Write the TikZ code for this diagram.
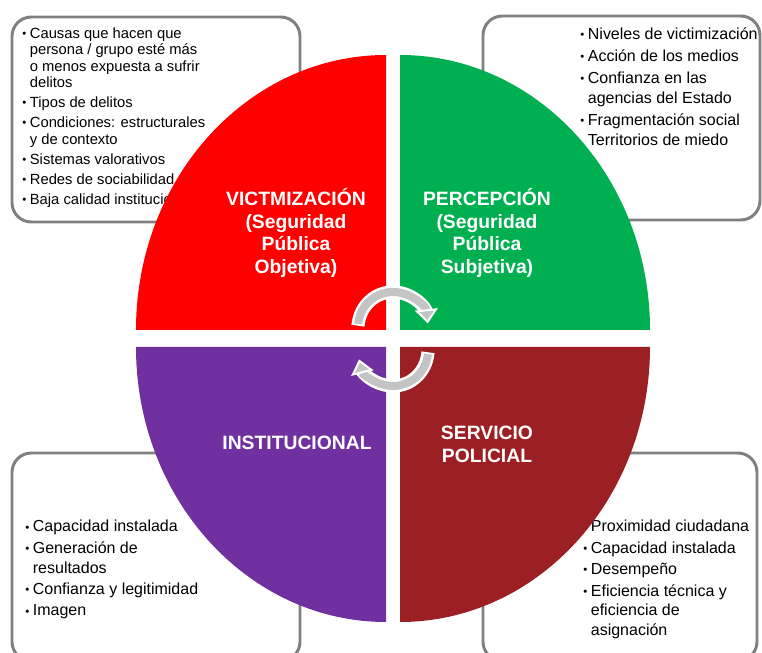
\documentclass[tikz,border=0pt]{standalone}
\usepackage{fontspec}
\setmainfont{Liberation Sans}
\usetikzlibrary{arrows.meta}
\definecolor{vicred}{HTML}{FF0000}
\definecolor{pergreen}{HTML}{00B050}
\definecolor{inspurple}{HTML}{7030A0}
\definecolor{serred}{HTML}{9C1F24}
\definecolor{boxgray}{HTML}{808080}
\definecolor{arrowgray}{HTML}{C4C4C4}
\newcommand{\bul}{\makebox[4.3pt][l]{\raisebox{.1ex}{\fontsize{6.5}{6.5}\selectfont\textbullet}}}
\newcommand{\ind}{\hspace*{4.3pt}}

\begin{document}
\begin{tikzpicture}[x=0.02cm, y=0.02cm,
    listbox/.style={draw=boxgray, line width=1.7pt, rounded corners=11pt},
    smalllist/.style={anchor=north west, inner sep=0pt, align=left,
        font=\fontsize{8.4}{9.4}\selectfont},
    biglist/.style={anchor=north west, inner sep=0pt, align=left,
        font=\fontsize{9.1}{11.2}\selectfont},
    title/.style={text=white, align=center,
        font=\bfseries\fontsize{11}{13}\selectfont},
    turnhalo/.style={white, line width=7.5pt, shorten >=6pt, shorten <=-1pt},
    turn/.style={arrowgray, line width=4.6pt,
        -{Triangle[length=8pt, width=13pt, color=white, fill=arrowgray, line width=1.1pt]}}]
    \useasboundingbox (0,0) rectangle (762,653);
    \begin{scope}
        \clip (0,0) rectangle (762,653);
        \draw [listbox] (12,636) rectangle (300,431);
        \draw [listbox] (483,637) rectangle (760,433);
        \draw [listbox] (12,200) rectangle (300,-8);
        \draw [listbox] (483,200) rectangle (757,-8);
    \end{scope}
    \node [smalllist] (causas) at (22,626) {\bul Causas que hacen que\\
        \ind persona / grupo esté más\\
        \ind o menos expuesta a sufrir\\
        \ind delitos\\[2pt]
        \bul Tipos de delitos\\[2pt]
        \bul Condiciones: estructurales\\
        \ind y de contexto\\[2pt]
        \bul Sistemas valorativos\\[2pt]
        \bul Redes de sociabilidad\\[2pt]
        \bul Baja calidad institucional};
    \node [biglist] (niveles) at (580,626) {\bul Niveles de victimización\\[1.5pt]
        \bul Acción de los medios\\[1.5pt]
        \bul Confianza en las\\
        \ind agencias del Estado\\[1.5pt]
        \bul Fragmentación social\\
        \ind Territorios de miedo};
    \node [biglist] (capacidad) at (25,133) {\bul Capacidad instalada\\[1pt]
        \bul Generación de\\
        \ind resultados\\[1pt]
        \bul Confianza y legitimidad\\[1pt]
        \bul Imagen};
    \node [biglist] (proximidad) at (583,133) {\bul Proximidad ciudadana\\[1pt]
        \bul Capacidad instalada\\[1pt]
        \bul Desempeño\\[1pt]
        \bul Eficiencia técnica y\\
        \ind eficiencia de\\
        \ind asignación};
    \fill [vicred] (386,323) -- (136,323) arc (180:90:250 and 275) -- cycle;
    \fill [pergreen] (400,323) -- (400,598) arc (90:0:250 and 275) -- cycle;
    \fill [inspurple] (386,306) -- (136,306) arc (180:270:250 and 275) -- cycle;
    \fill [serred] (400,306) -- (650,306) arc (0:-90:250 and 275) -- cycle;
    \node [title] (vic) at (296,420) {VICTMIZACIÓN\\(Seguridad\\Pública\\Objetiva)};
    \node [title] (per) at (487,420) {PERCEPCIÓN\\(Seguridad\\Pública\\Subjetiva)};
    \node [title] (ins) at (297,210) {INSTITUCIONAL};
    \node [title] (ser) at (487,209) {SERVICIO\\POLICIAL};
    \coordinate (hub) at (393,314);
    \draw [turnhalo] ([yshift=12*0.02cm]hub) ++(175:35) arc (175:6:35);
    \draw [turn] ([yshift=12*0.02cm]hub) ++(175:35) arc (175:6:35);
    \draw [turnhalo] ([yshift=-12*0.02cm]hub) ++(-5:35) arc (-5:-166:35);
    \draw [turn] ([yshift=-12*0.02cm]hub) ++(-5:35) arc (-5:-166:35);
\end{tikzpicture}
\end{document}
